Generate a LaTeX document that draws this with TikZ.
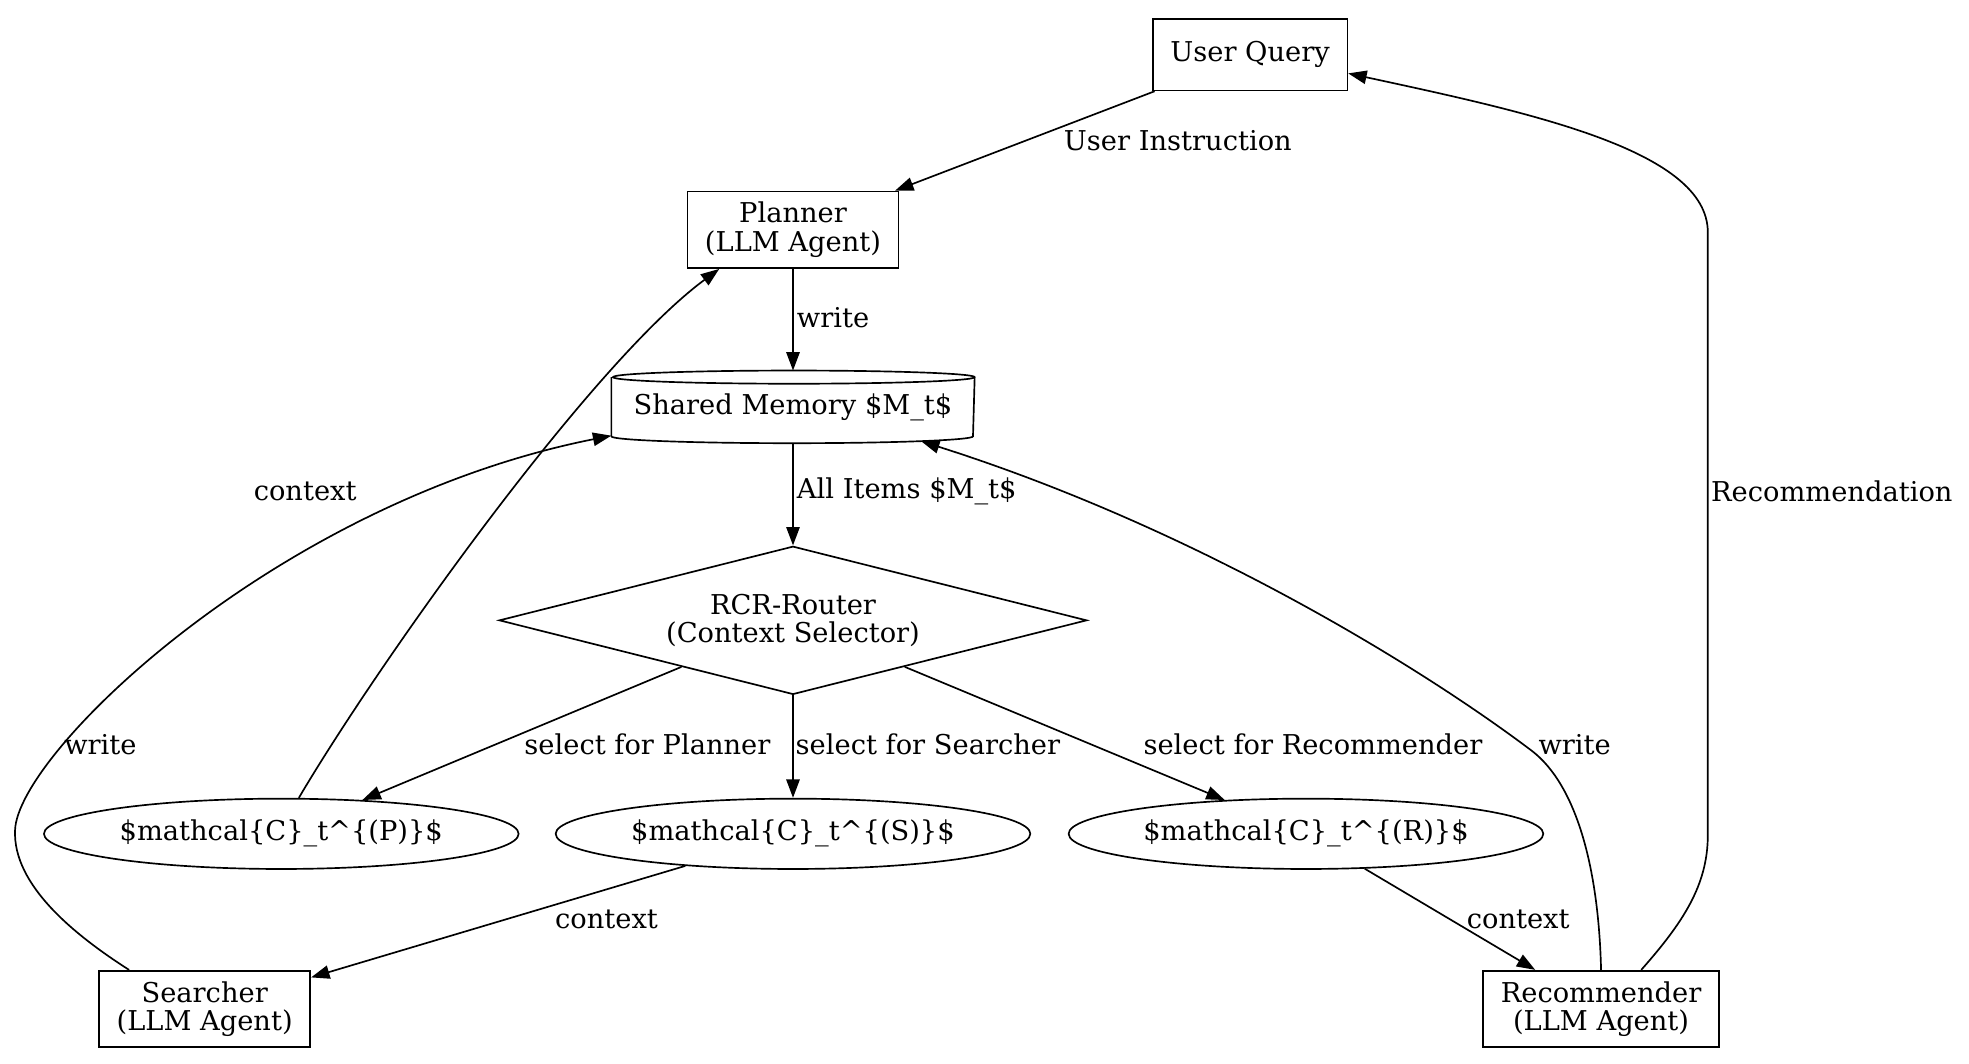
\documentclass[tikz,border=0pt]{standalone}
\usepackage{fontspec}
\setmainfont{DejaVu Serif}
\usetikzlibrary{shapes.geometric,arrows.meta}

\begin{document}
\begin{tikzpicture}[x=0.75pt,y=-0.75pt,line width=1pt,
  font=\fontsize{16.3}{17}\selectfont,
  plainbox/.style={draw, rectangle, inner xsep=10.5pt, inner ysep=0pt, align=center},
  agentbox/.style={plainbox, minimum height=45.75pt},
  memnode/.style={rectangle, minimum width=216pt, minimum height=42.4pt, inner sep=0pt},
  routernode/.style={draw, diamond, shape aspect=3.97, minimum width=351pt, minimum height=88.5pt, inner sep=0pt, align=center},
  ctxnode/.style={draw, ellipse, minimum width=283.5pt, minimum height=42pt, inner sep=0pt},
  lbl/.style={inner sep=0pt},
  arr/.style={-{Triangle[length=11pt,width=8pt]}}]
\useasboundingbox (0,0) rectangle (1568,847);

% nodes
\node[plainbox, minimum height=42.75pt] (query) at (995.5,43.5) {User Query};
\node[agentbox] (planner) at (631.5,183) {Planner\\(LLM Agent)};
\node[memnode] (memory) at (631.5,324) {Shared Memory \$M\_t\$};
\node[routernode] (router) at (631.5,494) {RCR-Router\\(Context Selector)};
\node[ctxnode] (ctxP) at (224,664) {\$mathcal\{C\}\_t\textasciicircum\{(P)\}\$};
\node[ctxnode] (ctxS) at (631.5,664) {\$mathcal\{C\}\_t\textasciicircum\{(S)\}\$};
\node[ctxnode] (ctxR) at (1040,664) {\$mathcal\{C\}\_t\textasciicircum\{(R)\}\$};
\node[agentbox] (searcher) at (163,803.5) {Searcher\\(LLM Agent)};
\node[agentbox] (recommender) at (1275,803.5) {Recommender\\(LLM Agent)};

% cylinder outline of the memory
\draw ([yshift=-3.94pt]memory.north west) -- ([yshift=4.1pt]memory.south west)
  arc[start angle=180, end angle=360, x radius=108pt, y radius=4.1pt]
  -- ([yshift=-3.94pt]memory.north east)
  arc[start angle=0, end angle=360, x radius=108pt, y radius=3.94pt];

% straight edges
\draw[arr] (query) -- (planner);
\draw[arr] (planner) -- (memory);
\draw[arr] (memory) -- (router);
\draw[arr] (router) -- (ctxP);
\draw[arr] (router) -- (ctxS);
\draw[arr] (router) -- (ctxR);
\draw[arr] (ctxS) -- (searcher);
\draw[arr] (ctxR) -- (recommender);

% curved edges
\draw[arr] ([xshift=10.5pt]ctxP.north) .. controls (300,530) and (470,290) .. ([xshift=19.5pt]planner.south west);
\draw[arr] ([xshift=18.4pt]searcher.north west) .. controls (60,745) and (10,705) .. (12,661)
  .. controls (14,600) and (220,400) .. ([yshift=4.5pt]memory.south west);
\draw[arr] (recommender.north) .. controls (1273,690) and (1255,625) .. (1220,598)
  .. controls (1130,530) and (950,420) .. ([xshift=-32pt,yshift=1.2pt]memory.south east);
\draw[arr] ([xshift=24pt]recommender.north) .. controls (1340,735) and (1360,705) .. (1360,665)
  -- (1360,185) .. controls (1360,120) and (1220,90) .. ([yshift=-11.2pt]query.east);

% edge labels
\node[lbl] (lblInstr) at (938,112) {User Instruction};
\node[lbl, anchor=west] (lblWrite) at (634,253) {write};
\node[lbl, anchor=west] (lblItems) at (634,391) {All Items \$M\_t\$};
\node[lbl] (lblCtxP) at (243,391) {context};
\node[lbl] (lblWriteS) at (80,593) {write};
\node[lbl, anchor=west] (lblSelP) at (417,593) {select for Planner};
\node[lbl, anchor=west] (lblSelS) at (633,593) {select for Searcher};
\node[lbl, anchor=west] (lblSelR) at (910,593) {select for Recommender};
\node[lbl] (lblWriteR) at (1254,593) {write};
\node[lbl, anchor=west] (lblRec) at (1362,391) {Recommendation};
\node[lbl] (lblCtxS) at (483,732) {context};
\node[lbl] (lblCtxR) at (1209,732) {context};
\end{tikzpicture}
\end{document}
